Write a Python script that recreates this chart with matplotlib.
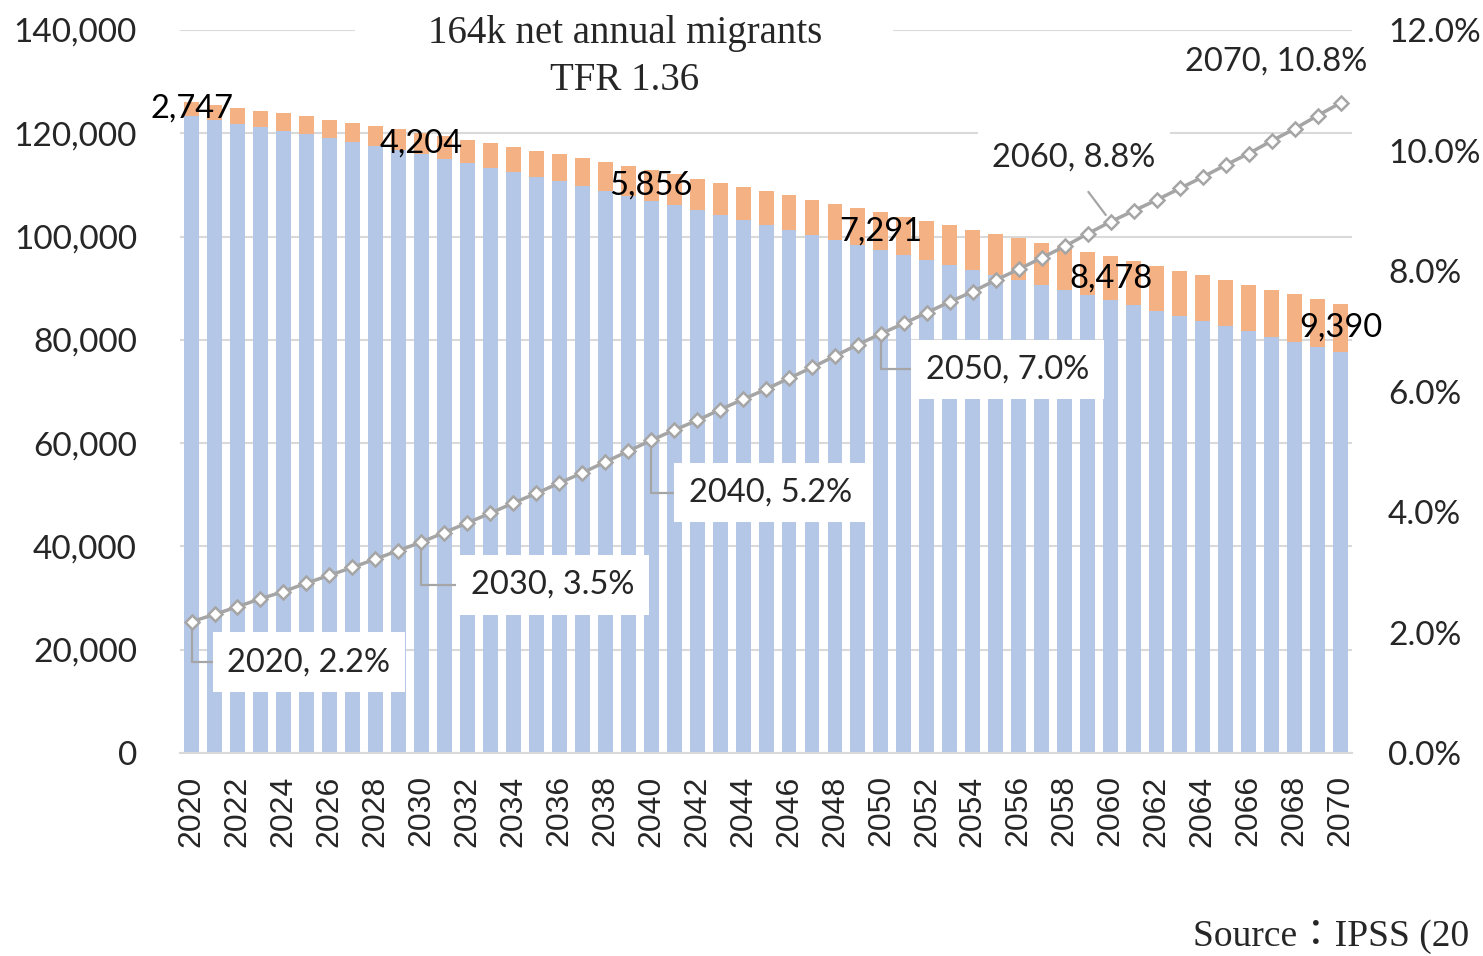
import matplotlib
matplotlib.use("Agg")
import matplotlib.pyplot as plt
from matplotlib.patches import Rectangle
import numpy as np

# 日本人口（千人）と外国人人口、外国人割合
years = list(range(2020, 2071))
japanese = [123399, 122610, 121865, 121220, 120525, 119792, 119035, 118290, 117510, 116725,
            115912, 115070, 114215, 113340, 112475, 111609, 110705, 109790, 108865, 107930,
            106981, 106040, 105095, 104140, 103190, 102226, 101260, 100300, 99335, 98360,
            97395, 96450, 95500, 94550, 93595, 92623, 91645, 90670, 89680, 88680,
            87670, 86670, 85670, 84670, 83655, 82652, 81645, 80635, 79625, 78610,
            77606]
foreign = [2747, 2890, 3035, 3180, 3325, 3470, 3615, 3760, 3910, 4055,
           4204, 4370, 4535, 4700, 4865, 5030, 5195, 5360, 5525, 5690,
           5856, 6000, 6145, 6290, 6430, 6575, 6720, 6860, 7005, 7150,
           7291, 7410, 7530, 7650, 7765, 7885, 8005, 8120, 8240, 8360,
           8478, 8570, 8660, 8750, 8845, 8935, 9025, 9115, 9205, 9300,
           9390]
foreign_share = [2.18, 2.30, 2.43, 2.56, 2.68, 2.82, 2.95, 3.08, 3.22, 3.36,
                 3.50, 3.66, 3.82, 3.98, 4.15, 4.31, 4.48, 4.65, 4.83, 5.01,
                 5.19, 5.36, 5.52, 5.70, 5.87, 6.04, 6.22, 6.40, 6.59, 6.78,
                 6.96, 7.13, 7.31, 7.49, 7.66, 7.85, 8.03, 8.22, 8.41, 8.62,
                 8.82, 9.00, 9.18, 9.37, 9.56, 9.76, 9.95, 10.16, 10.36, 10.58,
                 10.79]
label_years = [2020, 2030, 2040, 2050, 2060, 2070]
title_lines = ["164k net annual migrants", "TFR 1.36"]
source_text = "Source：IPSS (20"

BLUE = "#B4C7E7"
ORANGE = "#F4B183"
GRAY = "#A5A5A5"
GRID = "#D9D9D9"
TXT = "#262626"
SANS = "Lato"
SERIF = ["Liberation Serif", "Noto Sans CJK JP"]

fig = plt.figure(figsize=(14.83, 9.56), dpi=100)
ax = fig.add_axes([0.1214, 0.2123, 0.7903, 0.7563])
ax2 = ax.twinx()

# 棒グラフ（積み上げ）
ax.bar(years, japanese, width=0.65, color=BLUE, zorder=2)
ax.bar(years, foreign, width=0.65, bottom=japanese, color=ORANGE, zorder=2)

ax.set_xlim(2019.5, 2070.5)
ax.set_ylim(0, 140000)
ax.set_yticks(np.arange(0, 140001, 20000))
ax.set_yticklabels([f"{v:,}" for v in range(0, 140001, 20000)])
ax.set_xticks(years[::2])
ax.set_xticklabels([str(y) for y in years[::2]], rotation=90,
                   fontsize=23, family="Liberation Sans", color=TXT)
ax.tick_params(axis="y", length=0, pad=31, labelsize=24, labelcolor=TXT)
ax.tick_params(axis="x", length=0, pad=16)
for lab in ax.get_yticklabels():
    lab.set_family(SANS)
ax.grid(axis="y", color=GRID, linewidth=1.5, zorder=0)
ax.set_axisbelow(True)
for s in ["top", "left", "right"]:
    ax.spines[s].set_visible(False)
ax.spines["bottom"].set_color(GRID)
ax.spines["bottom"].set_linewidth(1.5)

# 外国人人口のラベル（10年ごと）
for y in label_years:
    i = years.index(y)
    ax.text(y, japanese[i] + foreign[i] / 2, f"{foreign[i]:,}", ha="center", va="center",
            fontsize=23.5, family=SANS, color="black", zorder=5)

# 折れ線（外国人割合）
ax2.plot(years, foreign_share, color=GRAY, linewidth=2.5, marker="D", markersize=7.5,
         markerfacecolor="white", markeredgecolor=GRAY, markeredgewidth=1.8, zorder=3)
ax2.set_ylim(0, 12)
ax2.set_yticks(np.arange(0, 12.1, 2))
ax2.set_yticklabels([f"{v:.1f}%" for v in np.arange(0, 12.1, 2)])
ax2.tick_params(axis="y", length=0, pad=26, labelsize=24, labelcolor=TXT)
for lab in ax2.get_yticklabels():
    lab.set_family(SANS)
for s in ax2.spines.values():
    s.set_visible(False)

# 割合ラベル（テキスト位置, 引出線）
label_pos = {2020: (2025.1, 1.51), 2030: (2035.7, 2.79), 2040: (2045.2, 4.32),
             2050: (2055.5, 6.37), 2060: (2058.4, 9.88), 2070: (2067.2, 11.47)}
box = dict(boxstyle="square,pad=0.45", facecolor="white", edgecolor="none")
for y in label_years:
    i = years.index(y)
    txt = f"{y}, {foreign_share[i]:.1f}%"
    tx, ty = label_pos[y]
    if y <= 2050:
        arrow = dict(arrowstyle="-", color=GRAY, linewidth=1.6,
                     connectionstyle="angle,angleA=0,angleB=90,rad=0",
                     shrinkA=0, shrinkB=6)
    elif y == 2060:
        arrow = dict(arrowstyle="-", color=GRAY, linewidth=1.6, relpos=(0.5, 0.0),
                     shrinkA=4, shrinkB=6)
    else:
        arrow = None
    ax2.annotate(txt, xy=(y, foreign_share[i]), xytext=(tx, ty), ha="center", va="center",
                 fontsize=23.5, family=SANS, color=TXT, bbox=box, arrowprops=arrow, zorder=6)

# タイトル（白背景で目盛線を隠す）
fig.add_artist(Rectangle((355 / 1483, 1 - 42 / 956), 538 / 1483, 24 / 956,
                         transform=fig.transFigure, facecolor="white", edgecolor="none", zorder=1))
fig.text(625 / 1483, 1 - 34 / 956, title_lines[0], ha="center", va="center",
         fontsize=28, family=SERIF, color=TXT, zorder=2)
fig.text(625 / 1483, 1 - 80 / 956, title_lines[1], ha="center", va="center",
         fontsize=28, family=SERIF, color=TXT, zorder=2)

fig.text(1193 / 1483, 1 - 937 / 956, source_text, ha="left", va="center",
         fontsize=27, family=SERIF, color=TXT)

fig.savefig("out.png", dpi=100)
